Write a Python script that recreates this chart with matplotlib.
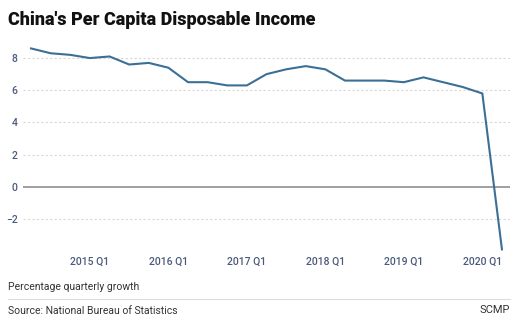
import numpy as np
import matplotlib.pyplot as plt

# quarterly growth, 2014 Q2 .. 2020 Q1
growth = [8.6, 8.3, 8.2, 8.0, 8.1, 7.6, 7.7, 7.4, 6.5, 6.5, 6.3, 6.3,
          7.0, 7.3, 7.5, 7.3, 6.6, 6.6, 6.6, 6.5, 6.8, 6.5, 6.2, 5.8, -3.9]
tick_pos = [3, 7, 11, 15, 19, 23]
tick_labels = ["2015 Q1", "2016 Q1", "2017 Q1", "2018 Q1", "2019 Q1", "2020 Q1"]
y_ticks = [-2, 0, 2, 4, 6, 8]

plt.rcParams['font.family'] = ['Roboto', 'DejaVu Sans']

fig = plt.figure(figsize=(5.12, 3.16), dpi=100)
ax = fig.add_axes([23 / 512, 1 - 251 / 316, 487 / 512, 209 / 316])

x = np.arange(len(growth))
ax.plot(x, growth, color='#3b6f96', lw=1.5, zorder=3, clip_on=False)
ax.axhline(0, color='#999999', lw=1.3, zorder=2)

ax.set_xlim(-0.41, 24.41)
ax.set_ylim(-4, 9)
ax.set_yticks(y_ticks)
ax.set_xticks(tick_pos)
ax.set_xticklabels(tick_labels)
ax.grid(axis='y', color='#d8d8d8', ls=(0, (2, 2)), lw=0.8)
for s in ax.spines.values():
    s.set_visible(False)
ax.tick_params(length=0, labelsize=7.5, labelcolor='#4b5a7c')
ax.tick_params(axis='y', pad=4)
ax.tick_params(axis='x', pad=4)
for lbl in ax.get_xticklabels() + ax.get_yticklabels():
    lbl.set_fontweight('medium')

fig.text(8 / 512, 1 - 20 / 316, "China's Per Capita Disposable Income",
         fontsize=13, fontweight='heavy', color='#111111', va='center')
fig.text(8 / 512, 1 - 287 / 316, "Percentage quarterly growth",
         fontsize=7.5, color='#333333', va='center')
fig.add_artist(plt.Line2D([8 / 512, 510 / 512], [1 - 299 / 316] * 2,
                          color='#dddddd', lw=0.8))
fig.text(8 / 512, 1 - 311 / 316, "Source: National Bureau of Statistics",
         fontsize=7.5, color='#333333', va='center')
fig.text(510 / 512, 1 - 310 / 316, "SCMP",
         fontsize=8, color='#333333', va='center', ha='right')

fig.savefig('out.png', dpi=100)
